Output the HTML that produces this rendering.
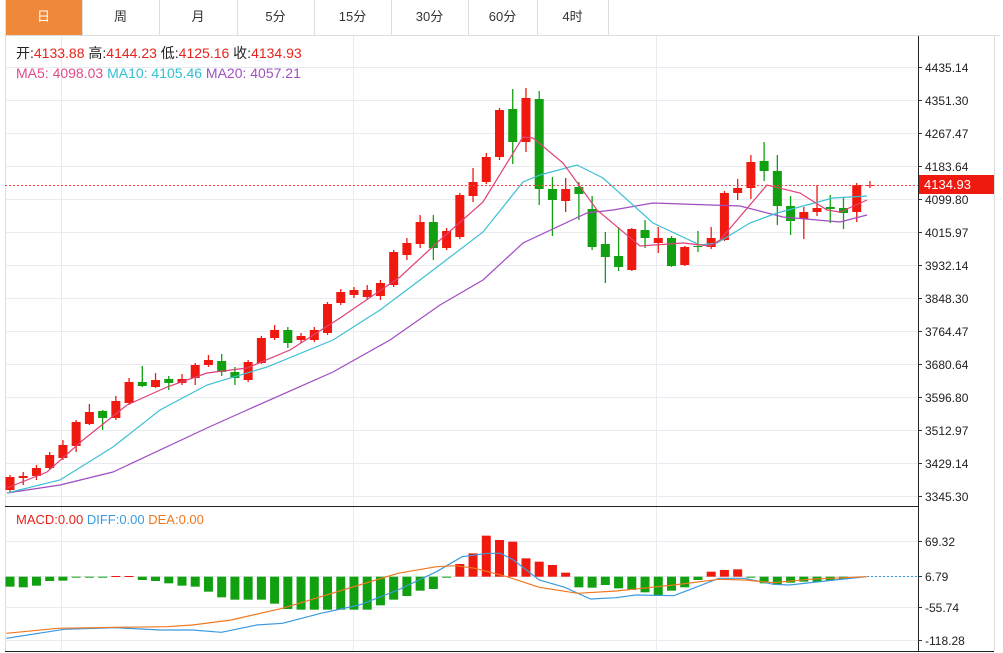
<!DOCTYPE html>
<html><head><meta charset="utf-8"><style>
body{margin:0;background:#fff;width:1003px;height:653px;overflow:hidden;font-family:"Liberation Sans","Noto Sans CJK SC",sans-serif}
svg{position:absolute;left:0;top:0}
</style></head><body>
<svg id="s" width="1003" height="653" xmlns="http://www.w3.org/2000/svg" font-family="Liberation Sans, Noto Sans CJK SC, sans-serif"></svg>
<script>
var s='';
function L(x1,y1,x2,y2,c,w,d){s+='<line x1="'+x1+'" y1="'+y1+'" x2="'+x2+'" y2="'+y2+'" stroke="'+c+'" stroke-width="'+(w||1)+'"'+(d?' stroke-dasharray="'+d+'"':'')+'/>';}
function R(x,y,w,h,c){s+='<rect x="'+x+'" y="'+y+'" width="'+w+'" height="'+Math.max(h,1)+'" fill="'+c+'"/>';}
function T(x,y,t,c,sz,a){s+='<text x="'+x+'" y="'+y+'" fill="'+c+'" font-size="'+(sz||12)+'"'+(a?' text-anchor="'+a+'"':'')+'>'+t+'</text>';}
function P(pts,c){s+='<polyline fill="none" stroke="'+c+'" stroke-width="1.2" points="'+pts.map(function(p){return p.join(',')}).join(' ')+'"/>';}
// tabs
var tb=[5,82,159,237,314,391,468,537,608],tn=['日','周','月','5分','15分','30分','60分','4时'];
R(5,0,77,35,'#f0883a');
for(var i=0;i<tb.length;i++)L(tb[i]+.5,0,tb[i]+.5,35,'#ddd');
L(5,35.5,1000,35.5,'#ddd');
for(i=0;i<8;i++)T((tb[i]+tb[i+1])/2,21,tn[i],i==0?'#fff':'#333',13,'middle');
// grid
var ty=[67,100,133,166,199,232,265,298,331,364,397,430,463,496],tl=['4435.14','4351.30','4267.47','4183.64','4099.80','4015.97','3932.14','3848.30','3764.47','3680.64','3596.80','3512.97','3429.14','3345.30'];
for(i=0;i<ty.length;i++){L(5,ty[i]+.5,918,ty[i]+.5,'#e8ecf0');L(918,ty[i]+.5,922,ty[i]+.5,'#333');T(925,ty[i]+5,tl[i],'#222',12);}
[61,353,656].forEach(function(x){L(x+.5,36,x+.5,651,'#e8ecf0');});
L(5.5,36,5.5,651,'#ddd');L(994.5,36,994.5,651,'#ddd');
L(918.5,36,918.5,651,'#222');
L(5,506.5,918,506.5,'#222');L(5,651.5,994,651.5,'#222');
var C=[['r',477,490,475,493],['r',476,478,472,485],['r',468,476,465,480],['r',455,468,452,470],['r',445,458,440,460],['r',422,446,420,452],['r',412,424,404,425],['g',411,418,410,430],['r',401,418,396,420],['r',382,403,378,405],['g',382,386,366,387],['r',380,387,373,388],['g',379,383,376,390],['r',379,383,374,385],['r',365,378,363,385],['r',360,365,355,367],['g',361,372,354,376],['g',372,378,367,385],['r',362,380,360,382],['r',338,363,336,364],['r',330,338,325,340],['g',330,343,327,348],['r',336,340,333,343],['r',330,340,327,342],['r',304,333,302,335],['r',292,303,289,305],['r',290,295,287,298],['r',290,297,285,300],['r',283,296,280,300],['r',252,285,250,287],['r',243,255,238,260],['r',222,244,215,248],['g',222,248,215,260],['r',231,248,228,250],['r',195,237,193,239],['r',182,196,168,202],['r',157,182,153,184],['r',110,157,108,160],['g',109,142,89,164],['r',98,142,88,152],['g',99,189,91,205],['g',189,200,177,236],['r',189,201,178,212],['g',187,194,182,220],['g',209,247,196,250],['g',244,257,232,283],['g',256,267,227,271],['r',229,270,228,271],['g',230,238,220,248],['r',238,243,227,253],['g',238,266,236,267],['r',247,265,246,266],['g',246,247,231,252],['r',238,247,227,249],['r',193,240,191,241],['r',188,193,179,200],['r',162,188,155,199],['g',161,171,142,181],['g',171,206,155,225],['g',206,221,196,235],['r',212,219,207,239],['r',208,212,185,216],['g',207,209,195,223],['g',208,213,197,229],['r',185,212,183,222],['r',185,186,181,188]];
function cx(i){return 10+i*13.23;}
C.forEach(function(c,i){var x=cx(i),col=c[0]=='r'?'#f0190f':'#10a010';L(x,c[3],x,c[4],col,1.3);R(x-4.5,c[1],9,c[2]-c[1],col);});
P([[7,493],[60,485],[113,472],[207,428],[247,410],[333,372],[390,340],[440,305],[483,280],[523,243],[587,213],[613,210],[653,203],[740,206],[783,217],[840,222],[867,215]],'#a04cc0');
P([[7,493],[60,480],[113,447],[160,410],[207,385],[267,367],[333,340],[380,310],[420,280],[483,232],[523,182],[540,175],[577,165],[603,178],[653,223],[700,245],[717,243],[750,223],[777,213],[833,198],[867,196]],'#3cc0d4');
P([[7,488],[47,472],[83,440],[127,405],[167,387],[207,373],[247,368],[290,350],[340,318],[400,277],[440,240],[483,202],[523,137],[533,138],[563,163],[597,210],[640,246],[683,243],[710,246],[720,240],[767,185],[800,193],[827,210],[840,212],[867,200]],'#e0407a');
L(5,185.5,918,185.5,'#ff4040',1,'2,2');
R(919,175,75,19,'#f0190f');T(924,189,'4134.93','#fff',13);
s+='<text x="16" y="58" font-size="14" fill="#222">开:<tspan fill="#e8231c">4133.88</tspan>  高:<tspan fill="#e8231c">4144.23</tspan>  低:<tspan fill="#e8231c">4125.16</tspan>  收:<tspan fill="#e8231c">4134.93</tspan></text>';
s+='<text x="16" y="78" font-size="14"><tspan fill="#e04a8a">MA5: 4098.03</tspan>  <tspan fill="#30c0d0">MA10: 4105.46</tspan>  <tspan fill="#a050c0">MA20: 4057.21</tspan></text>';
var my=[541,576,607,640],ml=['69.32','6.79','-55.74','-118.28'];
for(i=0;i<4;i++){L(5,my[i]+.5,918,my[i]+.5,'#e8ecf0');L(918,my[i]+.5,922,my[i]+.5,'#333');T(925,my[i]+5,ml[i],'#222',12);}
s+='<text x="16" y="524" font-size="13"><tspan fill="#e8231c">MACD:0.00</tspan>  <tspan fill="#3a9ae0">DIFF:0.00</tspan>  <tspan fill="#f07820">DEA:0.00</tspan></text>';
var Z=230,H=[260,262,257,243,242,233,233,233,228,228,240,243,250,257,260,275,292,299,299,299,311,327,329,329,329,329,329,329,316,299,288,272,267,232,192,160,107,120,125,175,185,195,218,262,263,255,265,270,277,285,272,262,240,215,210,208,232,250,255,248,245,245,242,238];
H.forEach(function(h,i){var x=cx(i)-4.5,z=576.7,y=500+h/3;if(h>=Z)R(x,z,9,y-z,'#10a010');else R(x,y,9,z-y,'#f0190f');});
function M(a){return a.map(function(p){return [(p[0]/1.558).toFixed(1),(500+p[1]/3).toFixed(1)];});}
P(M([[10,415],[100,388],[180,383],[250,390],[300,390],[345,397],[400,375],[440,370],[500,340],[560,315],[620,270],[680,215],[720,170],[760,160],[780,160],[800,180],[840,240],[880,262],[920,297],[960,293],[990,285],[1050,287],[1080,265],[1120,235],[1160,235],[1205,253],[1230,255],[1300,240],[1350,230]]),'#3a9ae0');
P(M([[10,400],[90,385],[180,382],[260,380],[300,375],[360,360],[440,325],[500,290],[560,255],[620,220],[680,200],[710,197],[740,205],[790,230],[840,262],[900,280],[960,273],[1050,255],[1120,238],[1160,240],[1205,248],[1260,238],[1350,230]]),'#f07820');
L(867,576.5,918,576.5,'#3a9ae0',1,'2,2');
document.getElementById('s').innerHTML=s;
</script>
</body></html>
